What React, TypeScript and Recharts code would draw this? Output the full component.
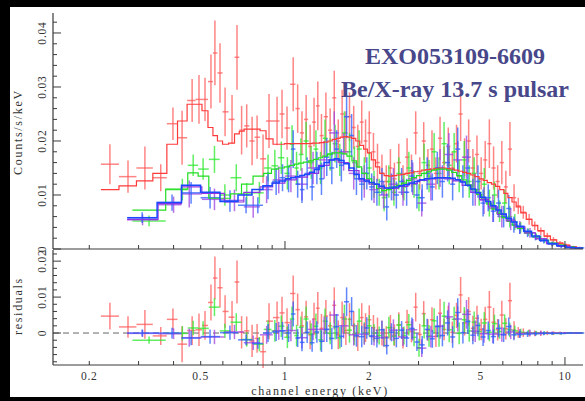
import React from 'react';
import { ComposedChart, Line, Scatter, ErrorBar, XAxis, YAxis, ReferenceLine } from 'recharts';

// each row: energy (keV), counts/s/keV, 1-sigma error, folded model
type Row = [number, number, number, number];

const redData: Row[] = [
  [0.237, 0.0157, 0.0037, 0.011], [0.275, 0.0134, 0.003, 0.0117], [0.316, 0.015, 0.004, 0.0126],
  [0.36, 0.0132, 0.0025, 0.014], [0.398, 0.0232, 0.003, 0.0194], [0.429, 0.0206, 0.005, 0.0237],
  [0.466, 0.0275, 0.004, 0.0268], [0.493, 0.0277, 0.0045, 0.0268], [0.518, 0.0277, 0.004, 0.0256],
  [0.544, 0.031, 0.005, 0.0225], [0.562, 0.0363, 0.006, 0.021], [0.586, 0.0326, 0.0055, 0.02],
  [0.611, 0.0254, 0.0045, 0.0194], [0.647, 0.024, 0.0045, 0.0196], [0.674, 0.0355, 0.006, 0.0213],
  [0.7, 0.022, 0.0045, 0.0218], [0.73, 0.0228, 0.004, 0.0222], [0.763, 0.02, 0.0045, 0.0222],
  [0.795, 0.0207, 0.004, 0.0222], [0.835, 0.0167, 0.0045, 0.0219], [0.877, 0.0237, 0.005, 0.0204],
  [0.937, 0.0237, 0.0045, 0.0194], [0.976, 0.025, 0.0045, 0.0194], [1.017, 0.0224, 0.004, 0.0195],
  [1.07, 0.0305, 0.005, 0.0195], [1.11, 0.026, 0.0045, 0.0195], [1.15, 0.0215, 0.004, 0.0195],
  [1.19, 0.024, 0.0045, 0.0195], [1.23, 0.019, 0.004, 0.0195], [1.27, 0.0235, 0.0045, 0.0196],
  [1.31, 0.0265, 0.0045, 0.0196], [1.35, 0.021, 0.004, 0.0197], [1.4, 0.0245, 0.0045, 0.0198],
  [1.45, 0.022, 0.004, 0.02], [1.5, 0.028, 0.005, 0.0203], [1.55, 0.02, 0.004, 0.0205],
  [1.6, 0.025, 0.0045, 0.0207], [1.65, 0.0215, 0.004, 0.0208], [1.7, 0.0245, 0.0045, 0.0207],
  [1.76, 0.0225, 0.004, 0.0205], [1.82, 0.019, 0.004, 0.02], [1.88, 0.0235, 0.004, 0.0192],
  [1.94, 0.02, 0.004, 0.0185], [2.0, 0.0215, 0.004, 0.0178], [2.07, 0.018, 0.0035, 0.0165],
  [2.14, 0.016, 0.0035, 0.0152], [2.22, 0.014, 0.0035, 0.014], [2.3, 0.0125, 0.003, 0.0136],
  [2.38, 0.015, 0.0035, 0.0135], [2.46, 0.013, 0.003, 0.0136], [2.55, 0.016, 0.0035, 0.0137],
  [2.64, 0.0125, 0.003, 0.0138], [2.73, 0.017, 0.0035, 0.014], [2.83, 0.0145, 0.003, 0.0141],
  [2.93, 0.0215, 0.004, 0.0143], [3.03, 0.014, 0.003, 0.0144], [3.13, 0.02, 0.0035, 0.0146],
  [3.24, 0.0155, 0.003, 0.0147], [3.35, 0.0185, 0.0035, 0.0148], [3.46, 0.014, 0.003, 0.0149],
  [3.58, 0.0205, 0.004, 0.015], [3.7, 0.016, 0.003, 0.015], [3.83, 0.019, 0.0035, 0.0149],
  [3.96, 0.015, 0.003, 0.0148], [4.1, 0.0195, 0.0035, 0.0146], [4.24, 0.025, 0.005, 0.0144],
  [4.38, 0.017, 0.0035, 0.0142], [4.53, 0.02, 0.004, 0.014], [4.69, 0.015, 0.0035, 0.0137],
  [4.85, 0.0175, 0.0035, 0.0134], [5.02, 0.014, 0.003, 0.013], [5.19, 0.0165, 0.0035, 0.0127],
  [5.37, 0.0195, 0.0045, 0.0123], [5.56, 0.015, 0.004, 0.012], [5.75, 0.0125, 0.003, 0.0116],
  [5.95, 0.016, 0.004, 0.011], [6.15, 0.0115, 0.003, 0.0103], [6.36, 0.0185, 0.005, 0.0095],
  [6.58, 0.0095, 0.0025, 0.0087], [6.81, 0.008, 0.0015, 0.0078], [7.1, 0.0068, 0.0012, 0.0067],
  [7.45, 0.0055, 0.001, 0.0055], [7.8, 0.0043, 0.0008, 0.0044], [8.2, 0.0033, 0.0007, 0.0034],
  [8.65, 0.0024, 0.0006, 0.0024], [9.1, 0.0017, 0.0005, 0.0017], [9.6, 0.0011, 0.0004, 0.0011],
  [10.1, 0.0007, 0.0003, 0.0007], [10.7, 0.0004, 0.0002, 0.0004], [11.3, 0.0002, 0.0002, 0.0002],
];

const greenData: Row[] = [
  [0.327, 0.0052, 0.001, 0.0072], [0.43, 0.011, 0.002, 0.0111], [0.47, 0.0155, 0.002, 0.0141],
  [0.51, 0.0148, 0.002, 0.0135], [0.56, 0.0166, 0.0025, 0.0094], [0.61, 0.01, 0.002, 0.0094],
  [0.67, 0.0132, 0.0025, 0.0102], [0.73, 0.0102, 0.002, 0.012], [0.81, 0.0104, 0.002, 0.0135],
  [0.87, 0.015, 0.0025, 0.014], [0.92, 0.0154, 0.003, 0.0148], [0.97, 0.0169, 0.003, 0.015],
  [1.02, 0.014, 0.003, 0.0152], [1.06, 0.0194, 0.0035, 0.0155], [1.1, 0.015, 0.003, 0.0157],
  [1.14, 0.0175, 0.003, 0.0159], [1.19, 0.02, 0.0035, 0.0161], [1.24, 0.016, 0.003, 0.0163],
  [1.29, 0.0185, 0.0035, 0.0166], [1.34, 0.015, 0.003, 0.0169], [1.39, 0.0205, 0.0035, 0.0172],
  [1.45, 0.0175, 0.003, 0.0176], [1.51, 0.0195, 0.0035, 0.0178], [1.57, 0.0165, 0.003, 0.0178],
  [1.63, 0.0215, 0.004, 0.0176], [1.7, 0.018, 0.0035, 0.0172], [1.77, 0.016, 0.003, 0.0163],
  [1.84, 0.0185, 0.0035, 0.0152], [1.92, 0.014, 0.003, 0.014], [2.0, 0.015, 0.003, 0.013],
  [2.08, 0.012, 0.0025, 0.012], [2.17, 0.0105, 0.0025, 0.0112], [2.26, 0.0095, 0.0025, 0.0108],
  [2.35, 0.0125, 0.003, 0.011], [2.45, 0.0105, 0.0025, 0.0114], [2.55, 0.014, 0.003, 0.0118],
  [2.66, 0.0115, 0.0025, 0.0122], [2.77, 0.015, 0.003, 0.0127], [2.89, 0.012, 0.0025, 0.0132],
  [3.01, 0.0095, 0.0025, 0.0136], [3.14, 0.016, 0.0035, 0.014], [3.27, 0.0135, 0.003, 0.0143],
  [3.41, 0.018, 0.0035, 0.0146], [3.55, 0.014, 0.003, 0.0148], [3.7, 0.0195, 0.004, 0.0148],
  [3.86, 0.0155, 0.0035, 0.0146], [4.02, 0.018, 0.0035, 0.0142], [4.19, 0.0135, 0.003, 0.0136],
  [4.37, 0.0165, 0.0035, 0.0128], [4.55, 0.0125, 0.003, 0.0119], [4.74, 0.014, 0.003, 0.011],
  [4.94, 0.0105, 0.0025, 0.0101], [5.15, 0.012, 0.003, 0.0092], [5.37, 0.0085, 0.0025, 0.0083],
  [5.6, 0.01, 0.0025, 0.0074], [5.84, 0.007, 0.002, 0.0066], [6.09, 0.0085, 0.0025, 0.0058],
  [6.35, 0.006, 0.002, 0.0051], [6.62, 0.005, 0.0015, 0.0044], [6.95, 0.004, 0.001, 0.0038],
  [7.4, 0.0031, 0.0007, 0.003], [7.9, 0.0023, 0.0006, 0.0023], [8.45, 0.0016, 0.0005, 0.0016],
  [9.05, 0.001, 0.0004, 0.0011], [9.7, 0.0006, 0.0003, 0.0007], [10.4, 0.0004, 0.0002, 0.0004],
  [11.2, 0.0002, 0.0002, 0.0002],
];

const purpleData: Row[] = [
  [0.31, 0.0054, 0.001, 0.0055], [0.4, 0.0082, 0.0015, 0.0084], [0.455, 0.0102, 0.0025, 0.0115],
  [0.56, 0.0092, 0.002, 0.0103], [0.66, 0.009, 0.002, 0.0087], [0.77, 0.0078, 0.002, 0.0105],
  [0.86, 0.011, 0.0025, 0.0115], [0.95, 0.0128, 0.0025, 0.0122], [1.05, 0.0135, 0.003, 0.0128],
  [1.15, 0.012, 0.003, 0.0133], [1.26, 0.015, 0.003, 0.014], [1.38, 0.0165, 0.0035, 0.0155],
  [1.5, 0.0215, 0.004, 0.0165], [1.62, 0.018, 0.0035, 0.016], [1.76, 0.014, 0.003, 0.0145],
  [1.92, 0.0125, 0.003, 0.0128], [2.08, 0.011, 0.0025, 0.012], [2.25, 0.01, 0.0025, 0.0113],
  [2.44, 0.012, 0.003, 0.0112], [2.64, 0.0105, 0.0025, 0.0116], [2.86, 0.013, 0.003, 0.0121],
  [3.08, 0.0085, 0.0025, 0.0127], [3.32, 0.012, 0.003, 0.013], [3.58, 0.015, 0.0035, 0.0131],
  [3.85, 0.0175, 0.004, 0.013], [4.14, 0.0165, 0.0035, 0.0126], [4.45, 0.017, 0.004, 0.0118],
  [4.78, 0.011, 0.003, 0.0105], [5.14, 0.009, 0.0025, 0.0092], [5.53, 0.0075, 0.0025, 0.0078],
  [5.95, 0.006, 0.002, 0.0064], [6.4, 0.0055, 0.002, 0.0052], [6.9, 0.004, 0.0012, 0.0041],
  [7.5, 0.003, 0.0009, 0.003], [8.2, 0.0019, 0.0006, 0.0019], [9.0, 0.001, 0.0004, 0.001],
  [10.0, 0.0005, 0.0003, 0.0005], [11.0, 0.0002, 0.0002, 0.0002],
];

const blueData: Row[] = [
  [0.309, 0.0058, 0.001, 0.0058], [0.395, 0.0086, 0.0015, 0.0086], [0.462, 0.0104, 0.002, 0.0118],
  [0.54, 0.0095, 0.002, 0.0105], [0.636, 0.0089, 0.002, 0.0088], [0.726, 0.0081, 0.0015, 0.01],
  [0.8, 0.0081, 0.0015, 0.011], [0.87, 0.0117, 0.0025, 0.0117], [0.93, 0.0125, 0.0025, 0.0122],
  [0.98, 0.0132, 0.0025, 0.0126], [1.03, 0.013, 0.0025, 0.013], [1.07, 0.0185, 0.0035, 0.0132],
  [1.11, 0.012, 0.0025, 0.0134], [1.15, 0.011, 0.0025, 0.0136], [1.2, 0.014, 0.003, 0.0138],
  [1.25, 0.0115, 0.0025, 0.0142], [1.3, 0.015, 0.003, 0.0147], [1.35, 0.013, 0.003, 0.0153],
  [1.41, 0.017, 0.0035, 0.016], [1.47, 0.015, 0.003, 0.0165], [1.53, 0.0185, 0.0035, 0.0167],
  [1.59, 0.0155, 0.003, 0.0164], [1.66, 0.0245, 0.004, 0.0158], [1.73, 0.021, 0.004, 0.015],
  [1.8, 0.013, 0.003, 0.0138], [1.88, 0.012, 0.003, 0.013], [1.96, 0.014, 0.003, 0.0126],
  [2.04, 0.0115, 0.0025, 0.0123], [2.13, 0.0105, 0.0025, 0.012], [2.22, 0.0125, 0.0025, 0.0116],
  [2.31, 0.0078, 0.0025, 0.0113], [2.4, 0.0115, 0.0025, 0.0113], [2.5, 0.01, 0.0025, 0.0115],
  [2.61, 0.0125, 0.0025, 0.0117], [2.72, 0.0105, 0.0025, 0.0119], [2.84, 0.0135, 0.003, 0.0122],
  [2.96, 0.01, 0.0025, 0.0125], [3.09, 0.0095, 0.0025, 0.0128], [3.22, 0.014, 0.003, 0.013],
  [3.36, 0.0115, 0.0025, 0.0131], [3.5, 0.015, 0.003, 0.0132], [3.65, 0.0125, 0.003, 0.0132],
  [3.81, 0.016, 0.0035, 0.0132], [3.97, 0.012, 0.003, 0.0131], [4.14, 0.0185, 0.004, 0.0128],
  [4.32, 0.0125, 0.003, 0.0124], [4.5, 0.015, 0.0035, 0.0118], [4.69, 0.0105, 0.0025, 0.0111],
  [4.89, 0.0125, 0.003, 0.0104], [5.1, 0.0085, 0.0025, 0.0096], [5.32, 0.0095, 0.0025, 0.0088],
  [5.55, 0.007, 0.002, 0.008], [5.79, 0.0085, 0.0025, 0.0072], [6.04, 0.006, 0.002, 0.0065],
  [6.3, 0.0075, 0.0025, 0.0057], [6.57, 0.0045, 0.0015, 0.005], [6.9, 0.0038, 0.001, 0.0042],
  [7.35, 0.003, 0.0008, 0.0033], [7.85, 0.0022, 0.0006, 0.0024], [8.4, 0.0015, 0.0005, 0.0016],
  [9.0, 0.0009, 0.0004, 0.001], [9.7, 0.0005, 0.0003, 0.0006], [10.5, 0.0003, 0.0002, 0.0003],
  [11.3, 0.0002, 0.0001, 0.0002],
];

const xTicks = [0.2, 0.3, 0.4, 0.5, 0.6, 0.7, 0.8, 0.9, 1, 2, 3, 4, 5, 6, 7, 8, 9, 10];
const xTickLabels = [0.2, 0.5, 1, 2, 5, 10];
const countTicks = [
  0, 0.002, 0.004, 0.006, 0.008, 0.01, 0.012, 0.014, 0.016, 0.018, 0.02, 0.022,
  0.024, 0.026, 0.028, 0.03, 0.032, 0.034, 0.036, 0.038, 0.04, 0.042,
];
const residTicks = [
  -0.008, -0.006, -0.004, -0.002, 0, 0.002, 0.004, 0.006, 0.008, 0.01, 0.012,
  0.014, 0.016, 0.018, 0.02, 0.022,
];

const X_DOMAIN = [0.1484, 11.6];
const FRAME = '#3a3a3a';
const TICK_FONT = '"Liberation Serif", serif';

// bin edges half way (in log) between neighbouring channels
const withBins = (rows: Row[]) => {
  const n = rows.length;
  return rows.map((r, i) => {
    const e = r[0];
    let lo = i > 0 ? Math.sqrt(rows[i - 1][0] * e) : 0;
    let hi = i < n - 1 ? Math.sqrt(e * rows[i + 1][0]) : 0;
    if (i === 0) lo = (e * e) / hi;
    if (i === n - 1) hi = (e * e) / lo;
    return { x: e, y: r[1], err: r[2], m: r[3], res: r[1] - r[3], ex: [e - lo, hi - e], lo, hi };
  });
};

const series = [
  { name: 'red', rows: withBins(redData), data: '#ff5c5c', model: '#ff3a3a', w: 1.2 },
  { name: 'green', rows: withBins(greenData), data: '#2ee82e', model: '#22dd22', w: 1.2 },
  { name: 'purple', rows: withBins(purpleData), data: '#a040e0', model: '#9035e0', w: 1.2 },
  { name: 'blue', rows: withBins(blueData), data: '#2a5cff', model: '#1a48ff', w: 1.5 },
];

const stepOf = (rows: ReturnType<typeof withBins>) =>
  rows.flatMap((p) => [{ x: p.lo, m: p.m }, { x: p.hi, m: p.m }]);

const isMajor = (v: number) => Math.abs(v * 100 - Math.round(v * 100)) < 1e-6;
const yLabel = (v: number) => (Math.abs(v) < 1e-9 ? '0' : v.toFixed(2));

const BottomTick = (props: any) => {
  const { x, y, payload, withLabel } = props;
  const v = payload.value;
  const len = v === 1 || v === 10 ? 8 : 4;
  return (
    <g>
      <line x1={x} x2={x} y1={y} y2={y - len} stroke={FRAME} />
      {withLabel && xTickLabels.includes(v) && (
        <text x={x} y={y + 15} textAnchor="middle" fontSize={11.5} fontFamily={TICK_FONT} letterSpacing={0.8} fill="#333">
          {v}
        </text>
      )}
    </g>
  );
};

const TopTick = (props: any) => {
  const { x, y, payload } = props;
  const len = payload.value === 1 || payload.value === 10 ? 8 : 4;
  return <line x1={x} x2={x} y1={y} y2={y + len} stroke={FRAME} />;
};

const LeftTick = (props: any) => {
  const { x, y, payload } = props;
  const major = isMajor(payload.value);
  return (
    <g>
      <line x1={x} x2={x + (major ? 8 : 4)} y1={y} y2={y} stroke={FRAME} />
      {major && (
        <text
          x={42}
          y={y}
          transform={`rotate(-90 42 ${y})`}
          textAnchor="middle"
          dominantBaseline="central"
          fontSize={11.5}
          fontFamily={TICK_FONT}
          letterSpacing={0.8}
          fill="#333"
        >
          {yLabel(payload.value)}
        </text>
      )}
    </g>
  );
};

const RightTick = (props: any) => {
  const { x, y, payload } = props;
  const len = isMajor(payload.value) ? 8 : 4;
  return <line x1={x} x2={x - len} y1={y} y2={y} stroke={FRAME} />;
};

const NoDot = () => <g />;

const axisLine = { stroke: FRAME, strokeWidth: 1.2 };

export default function App() {
  return (
    <div style={{ position: 'absolute', left: 0, top: 0, width: 585, height: 401, background: '#000', overflow: 'hidden' }}>
      <div style={{ position: 'absolute', left: 10, top: 7, width: 575, height: 390, background: '#fff' }} />

      {/* spectrum panel */}
      <div style={{ position: 'absolute', left: 0, top: 0 }}>
        <ComposedChart width={585} height={262} margin={{ top: 13, right: 2, bottom: 0, left: 0 }}>
          <XAxis dataKey="x" type="number" scale="log" domain={X_DOMAIN} allowDataOverflow ticks={xTicks} interval={0}
            height={13} tickSize={0} tickMargin={0} axisLine={axisLine} tick={(p: any) => <BottomTick {...p} />} />
          <XAxis xAxisId="t" orientation="top" type="number" scale="log" domain={X_DOMAIN} allowDataOverflow ticks={xTicks}
            interval={0} height={0} tickSize={0} tickMargin={0} axisLine={axisLine} tick={(p: any) => <TopTick {...p} />} />
          <YAxis type="number" domain={[0, 0.0437]} allowDataOverflow ticks={countTicks} interval={0} width={53}
            tickSize={0} tickMargin={0} axisLine={axisLine} tick={(p: any) => <LeftTick {...p} />} />
          <YAxis yAxisId="r" orientation="right" type="number" domain={[0, 0.0437]} allowDataOverflow ticks={countTicks}
            interval={0} width={0} tickSize={0} tickMargin={0} axisLine={axisLine} tick={(p: any) => <RightTick {...p} />} />
          {series.map((s) => (
            <Scatter key={`d-${s.name}`} data={s.rows} dataKey="y" shape={NoDot} isAnimationActive={false}>
              <ErrorBar dataKey="err" direction="y" width={0} stroke={s.data} strokeOpacity={0.75} isAnimationActive={false} />
              <ErrorBar dataKey="ex" direction="x" width={0} stroke={s.data} strokeOpacity={0.75} isAnimationActive={false} />
            </Scatter>
          ))}
          {series.map((s) => (
            <Line key={`m-${s.name}`} data={stepOf(s.rows)} dataKey="m" type="linear" stroke={s.model}
              strokeWidth={s.w} dot={false} activeDot={false} isAnimationActive={false} />
          ))}
        </ComposedChart>
      </div>

      {/* residual panel */}
      <div style={{ position: 'absolute', left: 0, top: 240 }}>
        <ComposedChart width={585} height={161} margin={{ top: 10, right: 2, bottom: 0, left: 0 }}>
          <XAxis dataKey="x" type="number" scale="log" domain={X_DOMAIN} allowDataOverflow ticks={xTicks} interval={0}
            height={36} tickSize={0} tickMargin={0} axisLine={axisLine} tick={(p: any) => <BottomTick {...p} withLabel />} />
          <XAxis xAxisId="t" orientation="top" type="number" scale="log" domain={X_DOMAIN} allowDataOverflow ticks={xTicks}
            interval={0} height={0} tickSize={0} tickMargin={0} axisLine={axisLine} tick={(p: any) => <TopTick {...p} />} />
          <YAxis type="number" domain={[-0.0089, 0.0231]} allowDataOverflow ticks={residTicks} interval={0} width={53}
            tickSize={0} tickMargin={0} axisLine={axisLine} tick={(p: any) => <LeftTick {...p} />} />
          <YAxis yAxisId="r" orientation="right" type="number" domain={[-0.0089, 0.0231]} allowDataOverflow ticks={residTicks}
            interval={0} width={0} tickSize={0} tickMargin={0} axisLine={axisLine} tick={(p: any) => <RightTick {...p} />} />
          <ReferenceLine y={0} stroke="#666" strokeDasharray="6 4" />
          {series.map((s) => (
            <Scatter key={`r-${s.name}`} data={s.rows} dataKey="res" shape={NoDot} isAnimationActive={false}>
              <ErrorBar dataKey="err" direction="y" width={0} stroke={s.data} strokeOpacity={0.75} isAnimationActive={false} />
              <ErrorBar dataKey="ex" direction="x" width={0} stroke={s.data} strokeOpacity={0.75} isAnimationActive={false} />
            </Scatter>
          ))}
        </ComposedChart>
      </div>

      {/* titles */}
      <svg width={585} height={401} style={{ position: 'absolute', left: 0, top: 0, pointerEvents: 'none' }}>
        <g fontFamily={TICK_FONT} fontSize={12} fill="#333" letterSpacing={1.7}>
          <text x={18} y={132} transform="rotate(-90 18 132)" textAnchor="middle" dominantBaseline="central">Counts/s/keV</text>
          <text x={18} y={306} transform="rotate(-90 18 306)" textAnchor="middle" dominantBaseline="central">residuals</text>
          <text x={320} y={395} textAnchor="middle">channel energy (keV)</text>
        </g>
        <g fontFamily='"Liberation Serif", serif' fontWeight="bold" fontSize={24} fill="#47478a" textAnchor="middle">
          <text x={455} y={64}>EXO053109-6609</text>
          <text x={455} y={97}>Be/X-ray 13.7 s pulsar</text>
        </g>
      </svg>
    </div>
  );
}
